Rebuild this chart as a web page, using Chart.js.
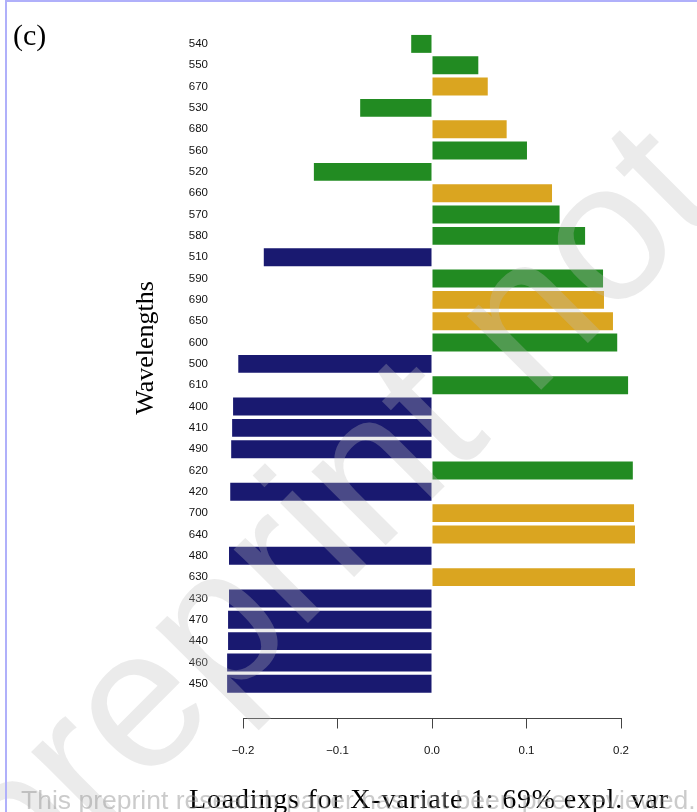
<!DOCTYPE html>
<html>
<head>
<meta charset="utf-8">
<script src="https://cdn.jsdelivr.net/npm/chart.js@4.4.0/dist/chart.umd.min.js"></script>
<style>
  html, body { margin: 0; padding: 0; background: #fff; }
  #wrap { position: relative; width: 697px; height: 812px; overflow: hidden; }
  #frame { position: absolute; left: 5px; top: 0; right: 0; bottom: 0;
           border-left: 2px solid #b0b0fa; border-top: 2px solid #b0b0fa; pointer-events: none; }
</style>
</head>
<body>
<div id="wrap">
  <canvas id="loadings" width="697" height="812"></canvas>
  <div id="frame"></div>
</div>
<script>
// wavelengths (nm), in the order they are plotted top to bottom
var wavelengths = ['540', '550', '670', '530', '680', '560', '520', '660', '570', '580',
                   '510', '590', '690', '650', '600', '500', '610', '400', '410', '490',
                   '620', '420', '700', '640', '480', '630', '430', '470', '440', '460', '450'];
// loadings on X-variate 1
var loadings = [-0.022, 0.049, 0.059, -0.076, 0.079, 0.1005, -0.125, 0.127, 0.135, 0.162,
                -0.178, 0.181, 0.182, 0.1915, 0.196, -0.205, 0.2075, -0.2105, -0.2115, -0.2125,
                0.2125, -0.2135, 0.2138, 0.2148, -0.2148, 0.2148, -0.2148, -0.2158, -0.2158, -0.2168, -0.2168];
var xTicks = [-0.2, -0.1, 0.0, 0.1, 0.2];

// bar colour follows the spectral band
function bandColour(nm) {
  nm = +nm;
  if (nm <= 510) return '#191970';
  if (nm <= 620) return '#228B22';
  return '#DAA520';
}

// axis titles, panel tag and page stamps
var pageText = {
  id: 'pageText',
  afterDraw: function (chart) {
    var c = chart.ctx;
    var area = chart.chartArea;

    c.save();
    c.fillStyle = '#000';
    c.textBaseline = 'alphabetic';
    c.font = '30px "Liberation Serif"';
    c.fillText('(c)', 13, 45);

    c.textAlign = 'center';
    c.font = '28px "Liberation Serif"';
    c.letterSpacing = '0.8px';
    c.fillText('Loadings for X-variate 1: 69% expl. var', (area.left + area.right) / 2 - 3, 808);
    c.letterSpacing = '0px';

    c.translate(146.5, 348);
    c.rotate(-Math.PI / 2);
    c.textBaseline = 'middle';
    c.font = '26px "Liberation Serif"';
    c.fillText('Wavelengths', 0, 0);
    c.restore();

    c.save();
    c.translate(18, 913);
    c.rotate(-Math.PI / 4);
    c.font = '198px "Liberation Sans"';
    c.fillStyle = 'rgba(188,188,188,0.3)';
    c.fillText('preprint not peer reviewed', 0, 0);
    c.restore();

    c.save();
    c.font = '26.5px "Liberation Sans"';
    c.fillStyle = 'rgba(140,140,140,0.45)';
    c.textBaseline = 'alphabetic';
    c.fillText('This preprint research paper has not been peer reviewed.', 21, 809);
    c.restore();
  }
};

var ctx = document.getElementById('loadings').getContext('2d');
new Chart(ctx, {
  type: 'bar',
  data: {
    datasets: [{
      data: loadings.map(function (v, i) { return { x: v, y: i }; }),
      backgroundColor: wavelengths.map(bandColour),
      borderWidth: 0,
      categoryPercentage: 1,
      barPercentage: 0.84,
      clip: false
    }]
  },
  options: {
    indexAxis: 'y',
    responsive: false,
    animation: false,
    layout: { padding: { left: 0, right: 76, top: 22, bottom: 0 } },
    plugins: { legend: { display: false }, tooltip: { enabled: false } },
    scales: {
      x: {
        type: 'linear',
        position: 'bottom',
        min: -0.2,
        max: 0.2,
        afterBuildTicks: function (s) { s.ticks = xTicks.map(function (v) { return { value: v }; }); },
        afterFit: function (s) { s.height = 93.5; },
        grid: { drawOnChartArea: false, drawTicks: true, tickLength: 10, color: '#444', lineWidth: 1 },
        border: { display: true, color: '#444', width: 1 },
        ticks: {
          padding: 15,
          color: '#111',
          font: { family: 'Liberation Sans', size: 11.5 },
          callback: function (v) { return (v < 0 ? '\u2212' : '') + Math.abs(v).toFixed(1); }
        }
      },
      y: {
        type: 'linear',
        reverse: true,
        min: -0.5,
        max: 31.1,
        afterBuildTicks: function (s) { s.ticks = wavelengths.map(function (w, i) { return { value: i }; }); },
        afterFit: function (s) { s.width = 243; },
        grid: { display: false, drawTicks: true, tickLength: 35 },
        border: { display: false },
        ticks: {
          autoSkip: false,
          padding: 0,
          color: '#111',
          font: { family: 'Liberation Sans', size: 11.5 },
          callback: function (v, i) { return wavelengths[i]; }
        }
      }
    }
  },
  plugins: [pageText]
});
</script>
</body>
</html>
